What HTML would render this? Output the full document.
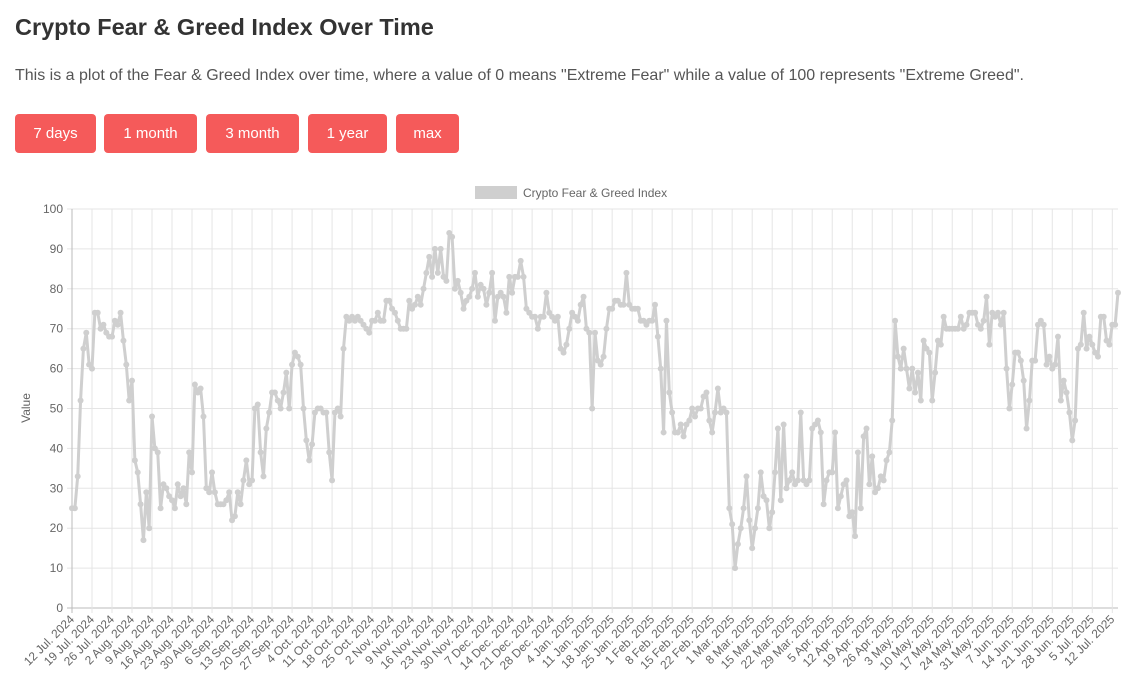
<!DOCTYPE html>
<html><head><meta charset="utf-8"><style>
body{margin:0;background:#fff;font-family:"Liberation Sans",sans-serif;color:#333;width:1142px;height:692px;overflow:hidden;position:relative}
h1{position:absolute;left:15px;top:14px;margin:0;font-size:23.5px;font-weight:bold;color:#333}
p{position:absolute;left:15px;top:67px;margin:0;font-size:16px;color:#555}
.btn{position:absolute;top:114px;height:39px;background:#f55a5a;color:#fff;border:none;border-radius:4px;font-size:15px;font-family:"Liberation Sans",sans-serif;display:flex;align-items:center;justify-content:center}
svg{position:absolute;left:0;top:0}
</style></head><body>
<h1>Crypto Fear &amp; Greed Index Over Time</h1>
<p>This is a plot of the Fear &amp; Greed Index over time, where a value of 0 means "Extreme Fear" while a value of 100 represents "Extreme Greed".</p>
<button class="btn" style="left:15px;width:81px">7 days</button>
<button class="btn" style="left:104px;width:93px">1 month</button>
<button class="btn" style="left:206px;width:93px">3 month</button>
<button class="btn" style="left:308px;width:79px">1 year</button>
<button class="btn" style="left:396px;width:63px">max</button>
<svg id="chart" width="1142" height="692"></svg>
<script>
const values=[25,25,33,52,65,69,61,60,74,74,70,71,69,68,68,72,71,74,67,61,52,57,37,34,26,17,29,20,48,40,39,25,31,30,28,27,25,31,28,30,26,39,34,56,54,55,48,30,29,34,29,26,26,26,27,29,22,23,29,26,32,37,31,32,50,51,39,33,45,49,54,54,52,50,54,59,50,61,64,63,61,50,42,37,41,49,50,50,49,49,39,32,49,50,48,65,73,72,73,72,73,72,71,70,69,72,72,74,72,72,77,77,75,74,72,70,70,70,77,75,76,78,76,80,84,88,83,90,84,90,83,82,94,93,80,82,79,75,77,78,80,84,78,81,80,76,79,84,72,78,79,78,74,83,79,83,83,87,83,75,74,73,73,70,73,73,79,74,73,72,73,65,64,66,70,74,73,72,76,78,70,69,50,69,62,61,63,70,75,75,77,77,76,76,84,76,75,75,75,72,72,71,72,72,76,68,60,44,72,54,49,44,44,46,43,46,47,50,48,50,50,53,54,47,44,49,55,49,50,49,25,21,10,16,20,25,33,22,15,20,25,34,28,27,20,24,34,45,27,46,30,32,34,31,32,49,32,31,32,45,46,47,44,26,32,34,34,44,25,28,31,32,23,24,18,39,25,43,45,31,38,29,30,33,32,37,39,47,72,63,60,65,60,55,60,54,59,52,67,65,64,52,59,67,66,73,70,70,70,70,70,73,70,71,74,74,74,71,70,72,78,66,74,73,74,71,74,60,50,56,64,64,62,57,45,52,62,62,71,72,71,61,63,60,61,68,52,57,54,49,42,47,65,66,74,65,68,66,64,63,73,73,67,66,71,71,79];
const tickLabels=["12 Jul. 2024","19 Jul. 2024","26 Jul. 2024","2 Aug. 2024","9 Aug. 2024","16 Aug. 2024","23 Aug. 2024","30 Aug. 2024","6 Sep. 2024","13 Sep. 2024","20 Sep. 2024","27 Sep. 2024","4 Oct. 2024","11 Oct. 2024","18 Oct. 2024","25 Oct. 2024","2 Nov. 2024","9 Nov. 2024","16 Nov. 2024","23 Nov. 2024","30 Nov. 2024","7 Dec. 2024","14 Dec. 2024","21 Dec. 2024","28 Dec. 2024","4 Jan. 2025","11 Jan. 2025","18 Jan. 2025","25 Jan. 2025","1 Feb. 2025","8 Feb. 2025","15 Feb. 2025","22 Feb. 2025","1 Mar. 2025","8 Mar. 2025","15 Mar. 2025","22 Mar. 2025","29 Mar. 2025","5 Apr. 2025","12 Apr. 2025","19 Apr. 2025","26 Apr. 2025","3 May. 2025","10 May. 2025","17 May. 2025","24 May. 2025","31 May. 2025","7 Jun. 2025","14 Jun. 2025","21 Jun. 2025","28 Jun. 2025","5 Jul. 2025","12 Jul. 2025"];
const yTicks=[0,10,20,30,40,50,60,70,80,90,100];
const svg=document.getElementById('chart');const NS='http://www.w3.org/2000/svg';
const X0=72,X1=1118,Y0=608,Y1=209;
const x=i=>X0+(X1-X0)*i/(values.length-1);
const y=v=>Y0-(Y0-Y1)*v/100;
function mk(t,a,p){const e=document.createElementNS(NS,t);for(const k in a)e.setAttribute(k,a[k]);(p||svg).appendChild(e);return e;}
yTicks.forEach(v=>{
 const l=mk('line',{x1:X0-5,x2:X1,y1:y(v),y2:y(v),stroke:v===0?'#bbb':'#e5e5e5'});
 
 
 const t=mk('text',{x:X0-9,y:y(v)+4,'text-anchor':'end','font-size':12,fill:'#666','font-family':'Liberation Sans'});
 t.textContent=v;
 
 
});
tickLabels.forEach((s,k)=>{
 const xx=x(k*7);
 const l=mk('line',{x1:xx,x2:xx,y1:Y1,y2:Y0+5,stroke:k===0?'#bbb':'#e5e5e5'});
 
 
 const t=mk('text',{x:xx+3,y:Y0+12,'text-anchor':'end','font-size':12,fill:'#666','font-family':'Liberation Sans',transform:`rotate(-45 ${xx+3} ${Y0+12})`});
 t.textContent=s;
 
 
});
const yt=mk('text',{x:30,y:408,'text-anchor':'middle','font-size':12,fill:'#666','font-family':'Liberation Sans',transform:'rotate(-90 30 408)'});
yt.textContent='Value';


const lb=mk('rect',{x:475,y:186,width:42,height:13,fill:'#cfcfcf'});


const lt=mk('text',{x:523,y:197,'font-size':12,fill:'#666','font-family':'Liberation Sans'});
lt.textContent='Crypto Fear & Greed Index';


const line=mk('polyline',{points:values.map((v,i)=>x(i)+','+y(v)).join(' '),fill:'none',stroke:'#cfcfcf','stroke-width':3,'stroke-linejoin':'round'});


values.forEach((v,i)=>{
 const c=mk('circle',{cx:x(i),cy:y(v),r:3,fill:'#cfcfcf'});
 
 
});
</script>
</body></html>
